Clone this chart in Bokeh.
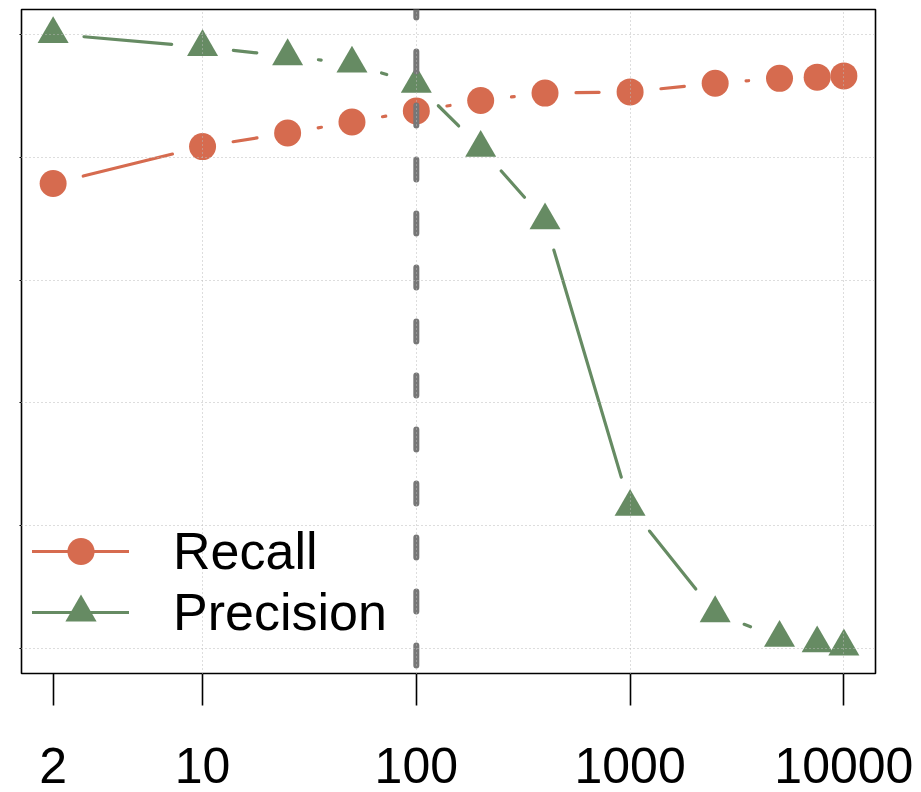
import numpy as np
from bokeh.plotting import figure
from bokeh.models import (Range1d, FixedTicker, Span, Legend, LegendItem,
                          ColumnDataSource)
from bokeh.embed import file_html
from bokeh.resources import INLINE

# ---------------- data ----------------
features = [2, 10, 25, 50, 100, 200, 400, 1000, 2500, 5000, 7500, 10000]
recall = [0.757, 0.817, 0.839, 0.857, 0.875, 0.892, 0.904, 0.906, 0.920, 0.928, 0.930, 0.932]
precision = [1.000, 0.979, 0.964, 0.952, 0.919, 0.815, 0.697, 0.231, 0.058, 0.018, 0.009, 0.004]
x_ticks = [2, 10, 100, 1000, 10000]
x_grid = [10, 100, 1000, 10000]
y_ticks = [0.0, 0.2, 0.4, 0.6, 0.8, 1.0]
cutoff = 100

# ---------------- style / layout ----------------
FONT = "Liberation Sans"
RECALL_COLOR = "#D66B4F"
PREC_COLOR = "#668B63"
FRAME_W, FRAME_H = 854, 664
GAP = 31  # px gap around points (R type="b")

lx = np.log10(features)
xspan = lx.max() - lx.min()
lx_lo, lx_hi = lx.min() - 0.04 * xspan, lx.max() + 0.04 * xspan
yspan = max(y_ticks) - min(y_ticks)
y_lo, y_hi = min(y_ticks) - 0.04 * yspan, max(y_ticks) + 0.04 * yspan


def to_px(xs, ys):
    px = (np.log10(xs) - lx_lo) / (lx_hi - lx_lo) * FRAME_W
    py = (np.asarray(ys) - y_lo) / (y_hi - y_lo) * FRAME_H
    return px, py


def from_px(px, py):
    xs = 10 ** (lx_lo + px / FRAME_W * (lx_hi - lx_lo))
    ys = y_lo + py / FRAME_H * (y_hi - y_lo)
    return xs, ys


def gapped(xs, ys):
    px, py = to_px(np.asarray(xs, float), ys)
    x0s, y0s, x1s, y1s = [], [], [], []
    for i in range(len(px) - 1):
        dx, dy = px[i + 1] - px[i], py[i + 1] - py[i]
        d = np.hypot(dx, dy)
        if d <= 2 * GAP:
            continue
        ux, uy = dx / d, dy / d
        a = from_px(px[i] + ux * GAP, py[i] + uy * GAP)
        b = from_px(px[i + 1] - ux * GAP, py[i + 1] - uy * GAP)
        x0s.append(a[0]); y0s.append(a[1]); x1s.append(b[0]); y1s.append(b[1])
    return dict(x0=x0s, y0=y0s, x1=x1s, y1=y1s)


p = figure(frame_width=FRAME_W, frame_height=FRAME_H,
           x_axis_type="log",
           x_range=Range1d(10 ** lx_lo, 10 ** lx_hi),
           y_range=Range1d(y_lo, y_hi),
           output_backend="svg", toolbar_location=None,
           min_border_left=21, min_border_top=9, min_border_right=46,
           min_border_bottom=119)

p.background_fill_color = "white"
p.border_fill_color = "white"
p.outline_line_color = "black"
p.outline_line_width = 1.6

# grids
p.xgrid.ticker = FixedTicker(ticks=x_grid)
p.ygrid.ticker = FixedTicker(ticks=y_ticks)
for g in (p.xgrid, p.ygrid):
    g.grid_line_color = "#BBBBBB"
    g.grid_line_dash = "1 3"
    g.grid_line_width = 1
    g.level = "overlay"

# x axis
xa = p.xaxis[0]
xa.ticker = FixedTicker(ticks=x_ticks)
xa.major_label_overrides = {t: str(t) for t in x_ticks}
xa.major_tick_out = 32
xa.major_tick_in = 0
xa.major_tick_line_width = 1.6
xa.minor_tick_line_color = None
xa.axis_line_color = None
xa.major_label_standoff = 42
xa.major_label_text_font = FONT
xa.major_label_text_font_size = "50px"
xa.major_label_text_color = "black"

# y axis (ticks only, no labels)
ya = p.yaxis[0]
ya.ticker = FixedTicker(ticks=y_ticks)
ya.major_tick_out = 2
ya.major_tick_in = 0
ya.major_tick_line_width = 1.2
ya.minor_tick_line_color = None
ya.axis_line_color = None
ya.major_label_overrides = {t: "" for t in y_ticks}
ya.major_label_standoff = 0

# series
rec_seg = p.segment(source=ColumnDataSource(gapped(features, recall)),
                    x0="x0", y0="y0", x1="x1", y1="y1",
                    line_color=RECALL_COLOR, line_width=3.2, line_cap="round")
pre_seg = p.segment(source=ColumnDataSource(gapped(features, precision)),
                    x0="x0", y0="y0", x1="x1", y1="y1",
                    line_color=PREC_COLOR, line_width=3.2, line_cap="round")
rec_pts = p.scatter(features, recall, marker="circle", size=27,
                    fill_color=RECALL_COLOR, line_color=None)
pre_pts = p.scatter(features, precision, marker="triangle", size=31,
                    fill_color=PREC_COLOR, line_color=None)

# cutoff line
p.add_layout(Span(location=cutoff, dimension="height", line_color="#777777",
                  line_width=6, line_dash="20 34", line_dash_offset=12,
                  line_cap="round"))

# legends (one per entry for exact marker sizes)
def make_leg(label, rends, gh, loc):
    return Legend(items=[LegendItem(label=label, renderers=rends)],
                  location=loc, glyph_width=97, glyph_height=gh,
                  label_standoff=44, padding=0, margin=0,
                  border_line_color=None, background_fill_alpha=0,
                  label_text_font=FONT, label_text_font_size="52px",
                  label_text_color="black")

p.add_layout(make_leg("Recall", [rec_seg, rec_pts], 68, (11, 88)), "center")
p.add_layout(make_leg("Precision", [pre_seg, pre_pts], 78, (11, 22)), "center")

open("out.html", "w").write(file_html(p, INLINE))
